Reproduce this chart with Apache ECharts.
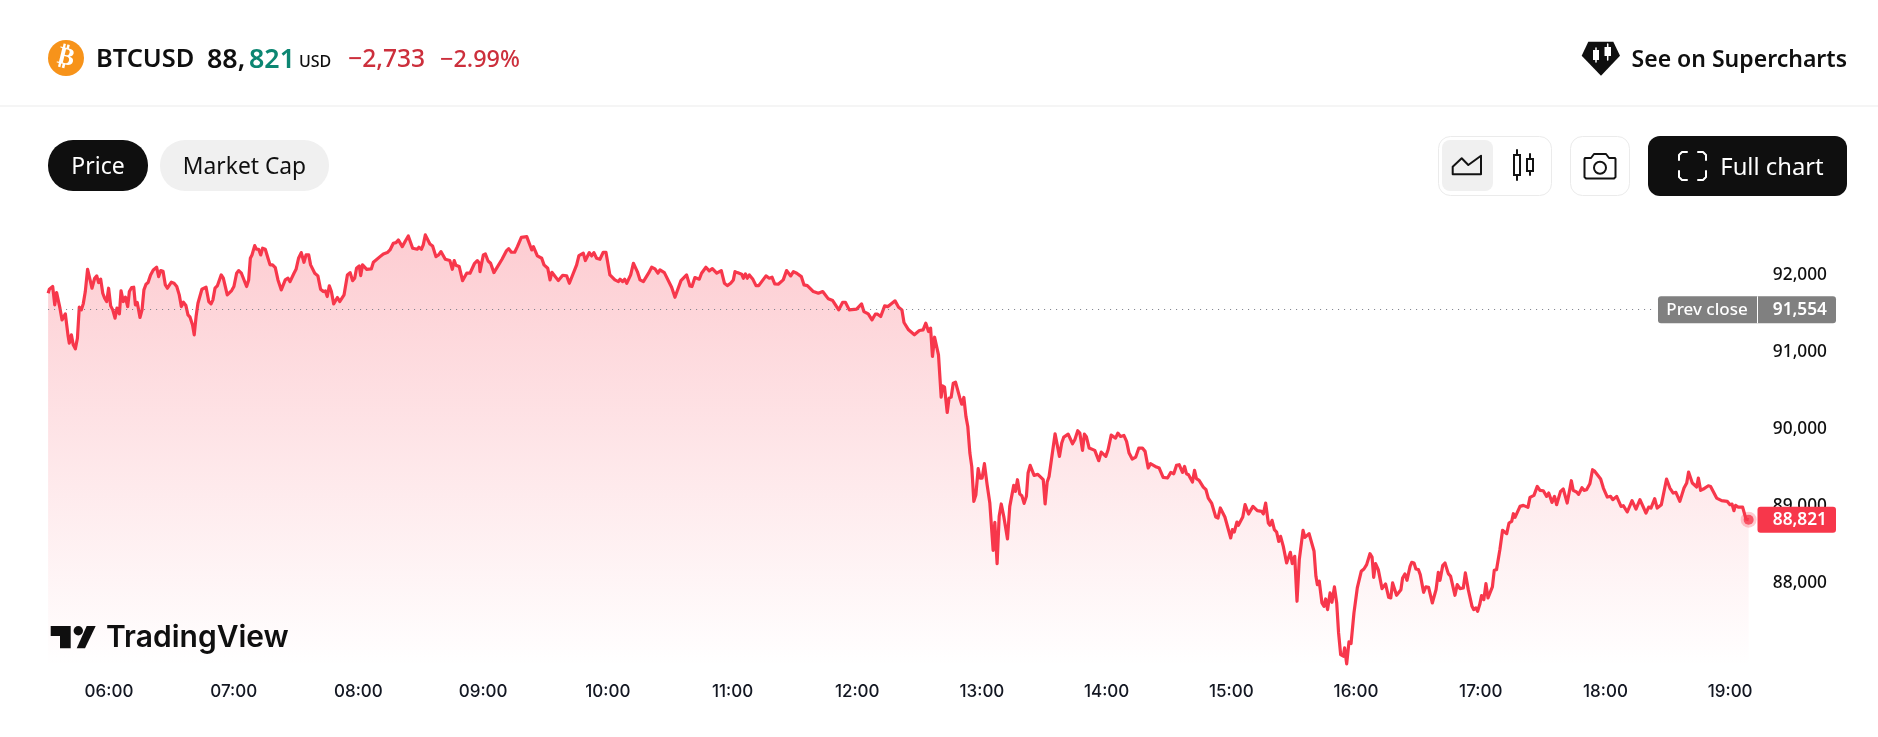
<!DOCTYPE html>
<html><head><meta charset="utf-8">
<script src="https://cdn.jsdelivr.net/npm/echarts@6/dist/echarts.min.js"></script>
<style>html,body{margin:0;padding:0;background:#fff}#c{width:1878px;height:737px}</style>
</head><body><div id="c"></div>
<script>
// Each pair: minutes after midnight, price in USD
const sessionOpen = [[330.7,91761],[331.3,91813],[332.9,91848],[333.9,91610],[334.8,91770],[336.4,91567],[337.4,91415],[338.3,91407],[339,91493],[340.3,91208],[340.9,91113],[341.9,91221],[342.8,91091],[343.8,91039],[344.8,91177],[345.7,91580],[346.7,91545],[347.6,91623],[348.6,91783],[349.7,92072],[350.9,91934],[351.8,91826],[353.1,91956],[354.1,91986],[355,91900],[356,91943],[357,91761],[357.9,91696],[358.9,91653],[359.8,91826],[360.8,91597],[361.8,91545],[362.9,91437],[363.8,91567],[365,91493],[365.8,91791],[366.9,91653],[367.9,91709],[369,91588],[369.8,91783],[370.9,91835],[371.9,91839],[372.7,91610],[373.6,91640],[374.9,91446],[375.9,91545],[376.8,91805],[377.8,91878],[378.8,91900],[380,91999],[381.3,92064],[382.9,92099],[383.9,91977],[384.9,92055],[386,92046],[387.1,91869],[388.1,91826],[389,91835],[390,91904],[391.3,91891],[392.6,91848],[393.8,91740],[394.8,91588],[395.8,91644],[397,91601],[398,91480],[399,91450],[400.2,91350],[401,91221],[401.9,91458],[402.8,91631],[404.7,91813],[406.7,91839],[408,91653],[409.1,91623],[410,91675],[411,91826],[412.1,91856],[414,91999],[415,91956],[416.9,91740],[419,91796],[420.1,91848],[421.4,92021],[422.4,92055],[423.7,92021],[424.6,92012],[426.2,91848],[427.2,91934],[428,92215],[428.8,92258],[430.1,92379],[431,92332],[432,92332],[433,92258],[433.9,92345],[435.2,92332],[436.5,92215],[437.5,92129],[438.7,92129],[440,92094],[441.3,91934],[442.9,91804],[444.8,91934],[446.1,91956],[447.1,91912],[449,92021],[450,92072],[451.2,92215],[452.5,92289],[453.8,92163],[454.8,92258],[456.1,92258],[457,92129],[459,92021],[460.5,91986],[461.8,91813],[463.1,91783],[464.1,91791],[465,91718],[466,91856],[467,91783],[468.1,91623],[469.9,91705],[471,91653],[473.1,91740],[474.7,91999],[476,92029],[477.2,91925],[478.2,91956],[479.1,92085],[480.4,92116],[481.1,91990],[482,92129],[484,92072],[486.2,92077],[487.2,92163],[488.1,92163],[490.4,92236],[492,92271],[493.9,92289],[495.2,92323],[496.8,92410],[498.1,92418],[499.2,92453],[501.1,92366],[502.6,92440],[504,92505],[506.1,92345],[508.3,92332],[509.1,92358],[510.3,92332],[511.2,92388],[512.2,92518],[513.1,92505],[514.4,92401],[515.7,92375],[517.3,92236],[518.6,92258],[519.7,92302],[521.8,92202],[524,92185],[525.2,92072],[526.1,92185],[526.9,92125],[528.5,92107],[530.1,91925],[532.1,92021],[533.7,92021],[535.9,92150],[537.2,92185],[538.2,92150]];
const sessionMidday = [[538.5,92042],[539.1,92042],[540.1,92258],[541.1,92271],[542.4,92180],[543.6,92150],[545.2,92029],[549.1,92202],[550,92202],[551.3,92315],[552.3,92340],[553.6,92293],[555.2,92293],[556.5,92366],[558.4,92487],[561,92496],[563.4,92323],[564.2,92366],[566.1,92245],[568.2,92215],[569.3,92129],[571.1,92085],[572.2,91934],[573.1,92033],[576.2,91925],[578.3,91994],[580.2,91986],[581.5,91891],[582.4,91882],[585,92129],[586.1,92250],[588.2,92280],[589.2,92185],[591.1,92289],[592.2,92245],[593.3,92289],[594.6,92215],[596.2,92202],[597.8,92293],[599.1,92293],[601,91999],[603.4,91934],[605.1,91912],[605.9,91943],[607.1,91912],[608.1,91943],[609.1,91891],[611,91999],[612.3,92150],[614.2,92042],[615.5,91934],[617.1,91912],[619.6,92021],[621.1,92099],[622.7,92077],[624.1,92021],[625.1,92064],[627.2,92029],[630.7,91839],[632.3,91709],[635.2,91925],[637.9,91999],[639.5,91856],[640.5,91848],[641.9,91964],[644,91943],[645.1,92021],[647.2,92099],[648.8,92051],[650.3,92081],[652.4,92021],[654.6,92055],[656.1,91891],[657.5,91860],[659.1,91891],[660.4,91934],[661.2,92042],[662.3,92029],[664.4,92008],[665.2,91956],[666.2,92012],[667.1,91956],[668.1,91999],[669.7,91947],[671.3,91860],[672.6,91860],[676.1,91986],[677.7,91956],[679,91969],[680.3,91882],[682,91878],[684.4,91934],[686,92055],[688,91986],[689.3,92042],[690.9,92021],[693.1,91977],[694.4,91869],[696,91860],[698.9,91783],[701.3,91761],[703.4,91783],[706.1,91688],[708.2,91666],[711.1,91545],[713,91644],[714.3,91644],[716.2,91545],[719.7,91554],[722.1,91623],[723.2,91523],[725.3,91493],[727.1,91415],[728.7,91489],[729.8,91489],[731.3,91459],[733.2,91597],[734.8,91588],[738.2,91662],[739.9,91580],[741.5,91545],[742.5,91381],[743.4,91372],[744.7,91286],[747.5,91221],[749.9,91277]];
const sessionSelloff = [[750.1,91285],[751.7,91285],[753,91372],[754.3,91264],[755.3,91307],[756.2,90940],[757.2,91190],[759.1,90961],[760.4,90412],[761,90559],[762,90542],[763.3,90213],[764.2,90399],[765.2,90412],[766.2,90594],[767.3,90607],[769.4,90399],[770.3,90321],[771.3,90408],[772.3,90162],[773.2,90032],[774.2,89686],[775.1,89513],[776.1,89059],[777.1,89146],[778.2,89483],[779.1,89362],[780.1,89362],[781.2,89548],[782.5,89275],[783.8,89038],[785.4,88424],[786.2,88787],[787.3,88251],[788.3,88865],[789.3,89025],[790.5,88865],[792.3,88571],[793.4,88994],[795.3,89267],[796.1,89189],[797.1,89340],[798.2,89154],[799.2,89133],[800.3,89033],[801.4,89124],[802.2,89427],[803.2,89526],[805.1,89396],[806.9,89409],[809.5,89340],[810.4,89025],[811.4,89310],[812.3,89383],[815.2,89937],[817.3,89643],[818.4,89816],[819.4,89894],[821.5,89932],[822.4,89924],[823.6,89807],[824.7,89859],[826.1,89976],[827.1,89945],[828.4,89721],[829.3,89932],[830.3,89894],[831.6,89751],[834.3,89721],[836.2,89587],[837.4,89699],[839.6,89643],[840.7,89729],[842.2,89919],[844.3,89881],[845.4,89945],[846.7,89902],[848.3,89915],[849.6,89837],[850.8,89686],[852.3,89608],[854,89634],[855.5,89751],[857.2,89751],[858.5,89708],[860,89492],[861.1,89548],[864,89504],[865.3,89492],[867.2,89370],[869.3,89362],[870.9,89435],[872.3,89418],[873.6,89526],[874.9,89535],[876.5,89435],[877.5,89513],[878.4,89418],[879.4,89405],[881.3,89310],[882.3,89461],[883.2,89353],[884.5,89331]];
const sessionLow = [[886.5,89245],[887.8,89210],[888.9,89102],[890.5,89037],[892.5,88856],[893.6,88843],[894.7,88973],[896.9,88856],[897.8,88843],[899.7,88584],[900.5,88692],[901.4,88661],[902.7,88791],[903.4,88748],[905.5,88856],[906.6,89016],[908.3,88895],[910.4,88994],[912.5,88938],[914.6,88929],[915.4,88895],[916.5,89037],[917.8,88778],[918.6,88748],[919.6,88813],[920.7,88691],[921.8,88661],[922.8,88540],[923.7,88605],[925,88475],[926.6,88259],[928.4,88398],[929.3,88251],[930.5,88346],[931.6,87762],[932.7,88303],[934.5,88683],[935.4,88592],[937.4,88640],[939.8,88411],[940.7,88086],[941.4,87978],[942.3,88022],[943.6,87740],[944.6,87697],[945.4,87792],[946.3,87654],[947.5,87870],[948.4,87749],[949.6,87948],[950.7,87740],[951.6,87351],[952.6,87070],[953.9,87049],[954.5,87157],[955.5,86949],[956.6,87235],[957.6,87213],[959,87611],[960.6,87935],[962.5,88151],[963.8,88181],[965.1,88238],[966.7,88380],[967.7,88337],[968.5,88073],[969.4,88251],[970.7,88173],[972.5,87926],[974.2,87987],[975.7,87814],[976.7,87805],[977.6,88000],[979.5,87840],[981.6,87913],[982.4,88065],[983.5,88117],[984.5,88034],[986,88216],[986.8,88268],[987.9,88259],[988.8,88181],[990,88173],[990.9,88108],[992.5,87879],[993.6,87948],[994.9,87944],[996.7,87740],[998.5,87913],[999.6,88138],[1000.4,88034],[1001.7,88225],[1002.8,88259],[1004.4,88121],[1005.5,88086],[1007.6,87840],[1008.7,87978],[1010,87926],[1011.6,87935],[1012.6,88130],[1014,87913],[1015.8,87697],[1016.6,87654],[1017.7,87676],[1018.5,87632],[1019.5,87719]];
const sessionClose = [[1020.4,87835],[1021.5,87784],[1022.5,87991],[1023.5,87805],[1025.6,87948],[1026.5,88164],[1027.6,88173],[1029.2,88432],[1030.5,88683],[1032.5,88640],[1033.6,88778],[1034.9,88800],[1035.7,88899],[1036.5,88851],[1038.9,88994],[1040.5,89007],[1042.7,88981],[1043.7,89111],[1045.6,89137],[1047.2,89253],[1048.5,89202],[1050.1,89197],[1051.7,89124],[1052.7,89167],[1054.3,89046],[1055.5,89124],[1056.5,89016],[1058.4,89189],[1059.7,89219],[1061.6,89037],[1063.6,89327],[1064.5,89202],[1066.1,89180],[1067.1,89150],[1068.7,89236],[1069.7,89202],[1070.9,89210],[1072.5,89288],[1073.8,89470],[1074.9,89448],[1077.7,89349],[1079,89232],[1079.8,89245],[1080.9,89115],[1082.5,89124],[1083.5,89081],[1085.4,89124],[1087.5,88994],[1088.6,89003],[1090.5,88921],[1092.8,89068],[1093.7,89050],[1094.7,88959],[1096.6,89081],[1099.5,88908],[1100.8,88985],[1101.9,88972],[1103.7,89094],[1104.9,88972],[1106.9,89016],[1109.4,89349],[1111,89232],[1112.6,89167],[1113.9,89176],[1115.8,89059],[1117.8,89232],[1119.1,89297],[1120,89439],[1120.7,89448],[1121.8,89297],[1123.9,89245],[1124.7,89362],[1125.8,89202],[1127.1,89219],[1128,89210],[1129.5,89262],[1130.6,89253],[1133.5,89102],[1135.9,89068],[1138.6,89059],[1139.9,89016],[1140.9,89024],[1141.8,88938],[1142.6,89007],[1143.9,88985],[1146,88985],[1147.6,88830],[1148.9,88821]];
const prevClose = 91554;
const lastPrice = 88821;
const change = '\u22122,733';
const changePct = '\u22122.99%';
const symbol = 'BTCUSD';
const currency = 'USD';

const RED = '#f7374b', INK = '#0f0f0f';
const UI = "'Noto Sans'";
const series = [].concat(sessionOpen, sessionMidday, sessionSelloff, sessionLow, sessionClose);
const lastPoint = series[series.length - 1];
const fmt = v => v.toLocaleString('en-US');
const hhmm = m => String(Math.floor(m / 60)).padStart(2, '0') + ':' + String(m % 60).padStart(2, '0');

const chart = echarts.init(document.getElementById('c'), null, {renderer: 'canvas'});

function txt(text, x, y, font, fill, align) {
  return {type: 'text', z: 20, silent: true, style: {text, x, y, font, fill, textAlign: align || 'left', textVerticalAlign: 'middle'}};
}
function rect(x, y, w, h, r, fill, stroke, z, lw) {
  return {type: 'rect', z: z || 10, silent: true, shape: {x, y, width: w, height: h, r},
    style: {fill: fill || 'none', stroke: stroke || 'none', lineWidth: stroke ? (lw || 1) : 0}};
}
function poly(points, fill) {
  return {type: 'polygon', z: 21, silent: true, shape: {points}, style: {fill}};
}
function stroke(points, color, w, z) {
  return {type: 'polyline', z: z || 21, silent: true, shape: {points},
    style: {stroke: color, lineWidth: w, fill: 'none', lineCap: 'round', lineJoin: 'round'}};
}

const chrome = [
  // header
  {type: 'circle', z: 10, silent: true, shape: {cx: 66, cy: 58, r: 18}, style: {fill: '#f7931a'}},
  {type: 'text', z: 20, silent: true, x: 66, y: 58, rotation: -0.24,
    style: {text: '\u20BF', x: 0, y: 0, font: "bold 25px 'DejaVu Sans'", fill: '#fff', textAlign: 'center', textVerticalAlign: 'middle'}},
  txt(symbol, 96, 60, `600 25.4px ${UI}`, INK),
  txt('88,', 207, 60, `600 26.8px ${UI}`, INK),
  txt('821', 249, 60, `600 26.8px ${UI}`, '#0c8672'),
  txt(currency, 299, 62, `500 16px ${UI}`, INK),
  txt(change, 348, 60, `500 24.6px ${UI}`, '#cc2f3c'),
  txt(changePct, 440, 60, `500 23.4px ${UI}`, '#cc2f3c'),
  rect(0, 105.5, 1878, 1, 0, '#ebebeb'),
  // supercharts gem
  poly([[1581.7,55.7],[1588.3,41.7],[1613.3,41.7],[1620,55.7],[1601,75.7]], INK),
  stroke([[1596,48],[1596,62]], '#fff', 1.5, 22),
  rect(1593,50,6,10,0,'#fff',null,22),
  stroke([[1607.7,44],[1607.7,60]], '#fff', 1.5, 22),
  rect(1604.5,47,6.5,9,0,'#fff',null,22),
  txt('See on Supercharts', 1847, 60, `600 23px ${UI}`, INK, 'right'),
  // tabs
  rect(48, 140, 100, 51, 25, INK),
  txt('Price', 98, 167.5, `400 23px ${UI}`, '#fff', 'center'),
  rect(160, 140, 169, 51, 25, '#f0f0f0'),
  txt('Market Cap', 244.5, 167.5, `400 22.8px ${UI}`, INK, 'center'),
  // chart type group
  rect(1438.5, 136.5, 113, 59, 12, '#fff', '#ebebeb'),
  rect(1442, 140, 51, 51, 8, '#f0f0f0'),
  {type: 'polygon', z: 21, silent: true, shape: {points: [[1452.7,174.3],[1452.7,166.7],[1461.7,158.3],[1468.3,165],[1481,155.7],[1481,174.3]]},
    style: {fill: 'none', stroke: '#131313', lineWidth: 2, lineJoin: 'round'}},
  stroke([[1517,150],[1517,155]], '#131313', 2), stroke([[1517,175],[1517,180]], '#131313', 2),
  rect(1514,155,6,20,0,'none','#131313',21,2),
  stroke([[1530,154],[1530,159]], '#131313', 2), stroke([[1530,171],[1530,175]], '#131313', 2),
  rect(1527,159,6,12,0,'none','#131313',21,2),
  // camera
  rect(1570.5, 136.5, 59, 59, 12, '#fff', '#ebebeb'),
  {type: 'polygon', z: 21, silent: true, shape: {points: [[1585,158],[1591,158],[1594,154],[1606,154],[1609,158],[1615,158],[1615.5,159],[1615.5,177],[1614,178.5],[1586,178.5],[1584.5,177],[1584.5,159]]},
    style: {fill: 'none', stroke: '#131313', lineWidth: 2, lineJoin: 'round'}},
  {type: 'circle', z: 21, silent: true, shape: {cx: 1600, cy: 167.7, r: 6}, style: {fill: 'none', stroke: '#131313', lineWidth: 2}},
  // full chart
  rect(1648, 136, 199, 60, 12, INK),
  stroke([[1679,160],[1679,155],[1682,152],[1687,152]], '#fff', 2),
  stroke([[1698,152],[1703,152],[1706,155],[1706,160]], '#fff', 2),
  stroke([[1706,171],[1706,177],[1703,180],[1698,180]], '#fff', 2),
  stroke([[1687,180],[1682,180],[1679,177],[1679,171]], '#fff', 2),
  txt('Full chart', 1772, 168.5, `400 23.8px ${UI}`, '#fff', 'center'),
  // watermark
  poly([[50.7,626],[70.7,626],[70.7,648.3],[60,648.3],[60,636],[50.7,636]], INK),
  {type: 'circle', z: 21, silent: true, shape: {cx: 78.3, cy: 630.7, r: 4.7}, style: {fill: INK}},
  poly([[86.7,626],[95.7,626],[85,648.3],[76.7,648.3]], INK),
  txt('TradingView', 106, 638, "600 30px 'Inter'", INK)
];

chart.setOption({
  animation: false,
  backgroundColor: '#fff',
  grid: {left: 46.65, right: 85.5, top: 197.8, bottom: -0.5, containLabel: false},
  xAxis: {
    type: 'value', min: 330, max: 1170, interval: 30,
    axisLine: {show: false}, axisTick: {show: false}, splitLine: {show: false},
    axisLabel: {inside: true, margin: 37, color: '#131722', fontFamily: 'Inter', fontSize: 17, fontWeight: 500,
      formatter: v => (v % 60 === 0 ? hhmm(v) : '')}
  },
  yAxis: {
    type: 'value', position: 'right', min: 86000, max: 93000, interval: 1000,
    axisLine: {show: false}, axisTick: {show: false}, splitLine: {show: false},
    axisLabel: {margin: 34.5, align: 'right', color: '#0f0f0f', fontFamily: UI, fontSize: 17.3, fontWeight: 500,
      formatter: v => (v >= 88000 && v <= 92000 ? fmt(v) : '')}
  },
  series: [
    {
      type: 'line', data: series, showSymbol: false, symbol: 'none', sampling: 'none', clip: false, z: 3,
      lineStyle: {color: RED, width: 3.2, join: 'round'},
      areaStyle: {origin: 'start', color: new echarts.graphic.LinearGradient(0, 0, 0, 1, [
        {offset: 0, color: 'rgba(247,55,75,0.36)'},
        {offset: 0.86, color: 'rgba(247,55,75,0)'},
        {offset: 1, color: 'rgba(247,55,75,0)'}
      ])},
      markLine: {
        silent: true, symbol: 'none', animation: false, label: {show: false},
        lineStyle: {color: '#787b86', type: [1, 5], width: 1},
        data: [[{coord: [330.7, prevClose]}, {coord: [1102.8, prevClose]}]]
      }
    },
    {type: 'scatter', data: [lastPoint], symbolSize: 16, z: 4, silent: true, itemStyle: {color: 'rgba(247,55,75,0.32)'}},
    {type: 'scatter', data: [lastPoint], symbolSize: 10, z: 5, silent: true, itemStyle: {color: RED}}
  ]
});

const yPrev = chart.convertToPixel({yAxisIndex: 0}, prevClose);
const yLast = chart.convertToPixel({yAxisIndex: 0}, lastPrice);
const tags = [
  rect(1658, yPrev - 13, 178, 27, 3, '#808080'),
  rect(1757, yPrev - 13, 1, 27, 0, '#fff', null, 11),
  txt('Prev close', 1707, yPrev + 0.5, `500 17px ${UI}`, '#fff', 'center'),
  txt(fmt(prevClose), 1827, yPrev + 0.5, `600 17.3px ${UI}`, '#fff', 'right'),
  rect(1757.5, yLast - 13, 78.5, 26, 3, RED),
  txt(fmt(lastPrice), 1827, yLast + 0.5, `600 17.3px ${UI}`, '#fff', 'right')
];
chart.setOption({graphic: {elements: chrome.concat(tags)}});
</script></body></html>
